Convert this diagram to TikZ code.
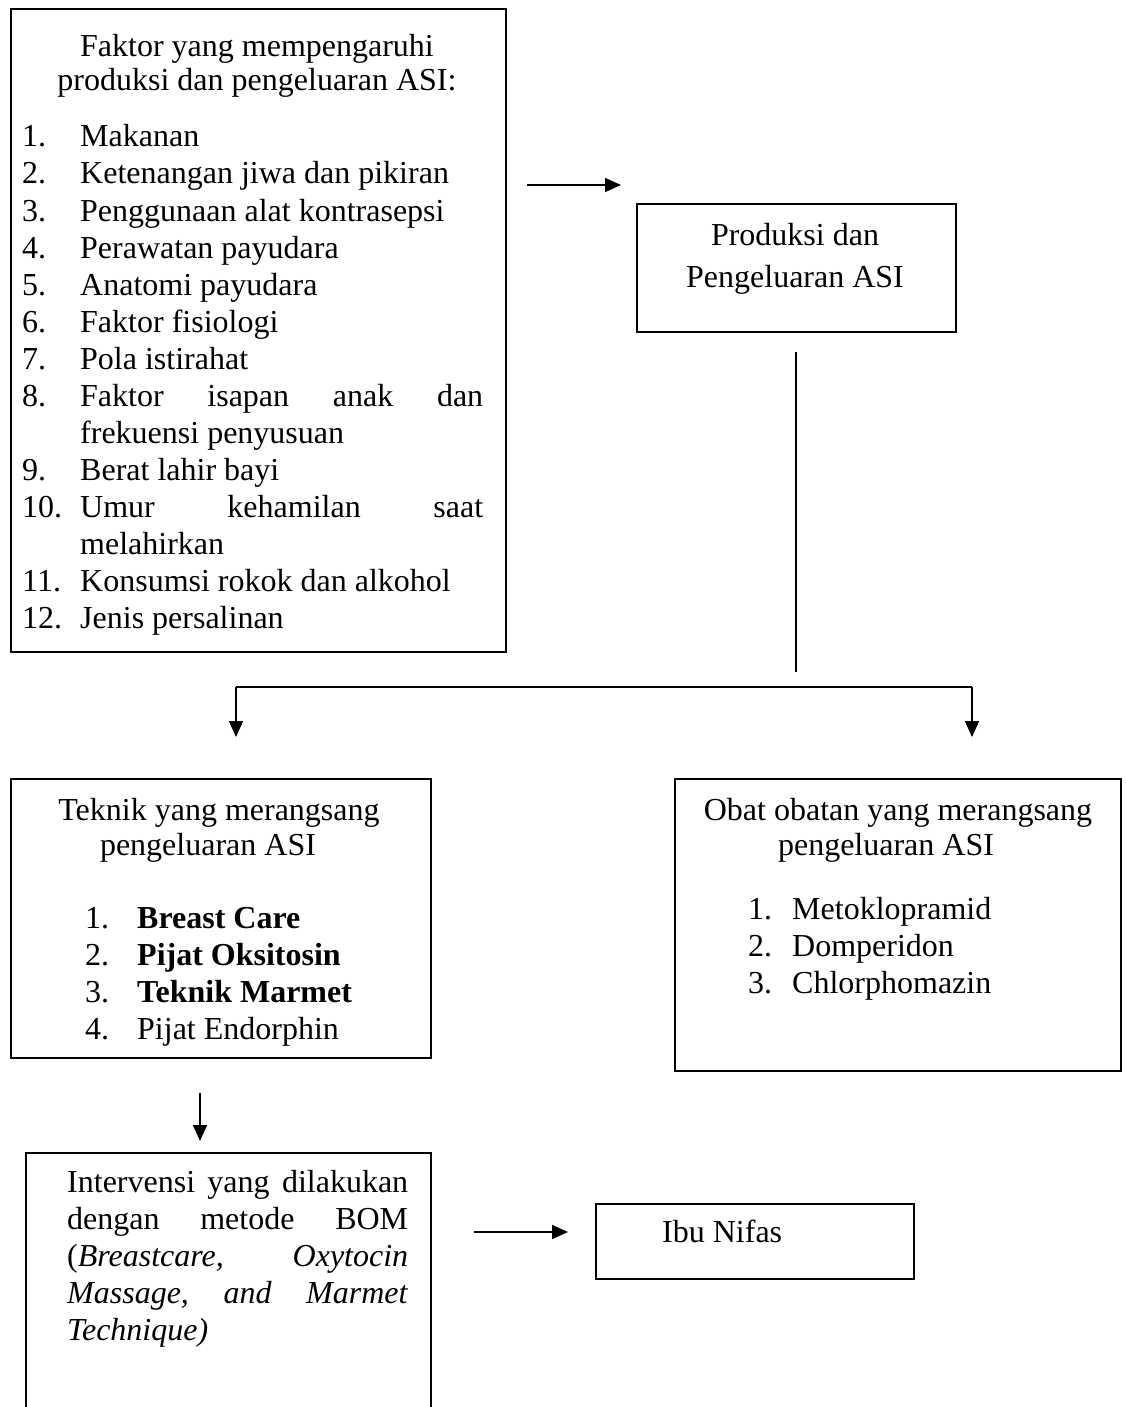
\documentclass[tikz,border=0pt]{standalone}
\usepackage{fontspec}
\setmainfont{Liberation Serif}
\usetikzlibrary{arrows.meta}

\begin{document}
\begin{tikzpicture}[x=1pt,y=-1pt,font=\fontsize{32}{37}\selectfont,
	box/.style={draw,line width=1.6pt,anchor=north west,inner sep=0pt},
	txt/.style={anchor=base west,inner sep=0pt},
	ttl/.style={anchor=base,inner sep=0pt},
	arr/.style={-{Triangle[length=16pt,width=14pt]},line width=1.6pt}]
	\useasboundingbox (0,0) rectangle (1126,1407);
	% kotak
	\node[box,minimum width=495pt,minimum height=643pt] (faktor) at (10,8) {};
	\node[box,minimum width=319pt,minimum height=128pt] (produksi) at (636,203) {};
	\node[box,minimum width=420pt,minimum height=279pt] (teknik) at (10,778) {};
	\node[box,minimum width=446pt,minimum height=292pt] (obat) at (674,778) {};
	\node[box,minimum width=405pt,minimum height=290pt] (intervensi) at (25,1152) {};
	\node[box,minimum width=318pt,minimum height=75pt] (nifas) at (595,1203) {};
	% faktor
	\node[ttl] (f0) at (257,57) {Faktor yang mempengaruhi};
	\node[ttl] (f00) at (257,91) {produksi dan pengeluaran ASI:};
	\node[txt] (n1) at (22,147) {1.};   \node[txt] (f1) at (80,147) {Makanan};
	\node[txt] (n2) at (22,184) {2.};   \node[txt] (f2) at (80,184) {Ketenangan jiwa dan pikiran};
	\node[txt] (n3) at (22,221) {3.};   \node[txt] (f3) at (80,221) {Penggunaan alat kontrasepsi};
	\node[txt] (n4) at (22,258) {4.};   \node[txt] (f4) at (80,258) {Perawatan payudara};
	\node[txt] (n5) at (22,295) {5.};   \node[txt] (f5) at (80,295) {Anatomi payudara};
	\node[txt] (n6) at (22,332) {6.};   \node[txt] (f6) at (80,332) {Faktor fisiologi};
	\node[txt] (n7) at (22,369) {7.};   \node[txt] (f7) at (80,369) {Pola istirahat};
	\node[txt] (n8) at (22,406) {8.};   \node[txt] (f8) at (80,406) {\makebox[403pt][l]{Faktor\hfill isapan\hfill anak\hfill dan}};
	\node[txt] (f8b) at (80,443) {frekuensi penyusuan};
	\node[txt] (n9) at (22,480) {9.};   \node[txt] (f9) at (80,480) {Berat lahir bayi};
	\node[txt] (n10) at (22,517) {10.}; \node[txt] (f10) at (80,517) {\makebox[403pt][l]{Umur\hfill kehamilan\hfill saat}};
	\node[txt] (f10b) at (80,554) {melahirkan};
	\node[txt] (n11) at (22,591) {11.}; \node[txt] (f11) at (80,591) {Konsumsi rokok dan alkohol};
	\node[txt] (n12) at (22,628) {12.}; \node[txt] (f12) at (80,628) {Jenis persalinan};
	% produksi
	\node[ttl] (p1) at (795,245) {Produksi dan};
	\node[ttl] (p2) at (795,287) {Pengeluaran ASI};
	% teknik
	\node[ttl] (t0) at (219,820) {Teknik yang merangsang};
	\node[ttl] (t00) at (208,855) {pengeluaran ASI};
	\node[txt] (tn1) at (85,928) {1.};  \node[txt] (t1) at (137,928) {\textbf{Breast Care}};
	\node[txt] (tn2) at (85,965) {2.};  \node[txt] (t2) at (137,965) {\textbf{Pijat Oksitosin}};
	\node[txt] (tn3) at (85,1002) {3.}; \node[txt] (t3) at (137,1002) {\textbf{Teknik Marmet}};
	\node[txt] (tn4) at (85,1039) {4.}; \node[txt] (t4) at (137,1039) {Pijat Endorphin};
	% obat
	\node[ttl] (o0) at (898,820) {Obat obatan yang merangsang};
	\node[ttl] (o00) at (886,855) {pengeluaran ASI};
	\node[txt] (on1) at (748,919) {1.}; \node[txt] (o1) at (792,919) {Metoklopramid};
	\node[txt] (on2) at (748,956) {2.}; \node[txt] (o2) at (792,956) {Domperidon};
	\node[txt] (on3) at (748,993) {3.}; \node[txt] (o3) at (792,993) {Chlorphomazin};
	% intervensi
	\node[txt] (i1) at (67,1192) {\makebox[341pt][l]{Intervensi\hfill yang\hfill dilakukan}};
	\node[txt] (i2) at (67,1229) {\makebox[341pt][l]{dengan\hfill metode\hfill BOM}};
	\node[txt] (i3) at (67,1266) {\makebox[341pt][l]{(\textit{Breastcare,}\hfill\textit{Oxytocin}}};
	\node[txt] (i4) at (67,1303) {\makebox[341pt][l]{\textit{Massage,}\hfill\textit{and}\hfill\textit{Marmet}}};
	\node[txt] (i5) at (67,1340) {\textit{Technique)}};
	% nifas
	\node[txt] (ibu) at (662,1242) {Ibu Nifas};
	% titik panah
	\coordinate (a1s) at (527,185);
	\coordinate (a1e) at (621,185);
	\coordinate (vs) at (796,352);
	\coordinate (ve) at (796,672);
	\coordinate (bl) at (236,687);
	\coordinate (br) at (972,687);
	\coordinate (tl) at (236,737);
	\coordinate (tr) at (972,737);
	\coordinate (a3s) at (200,1093);
	\coordinate (a3e) at (200,1141);
	\coordinate (a4s) at (474,1232);
	\coordinate (a4e) at (568,1232);
	% panah
	\draw[arr] (a1s) -- (a1e);
	\draw[line width=1.6pt] (vs) -- (ve);
	\draw[arr] (bl) -- (tl);
	\draw[arr] (br) -- (tr);
	\draw[line width=1.6pt] (bl) -- (br);
	\draw[arr] (a3s) -- (a3e);
	\draw[arr] (a4s) -- (a4e);
\end{tikzpicture}
\end{document}
